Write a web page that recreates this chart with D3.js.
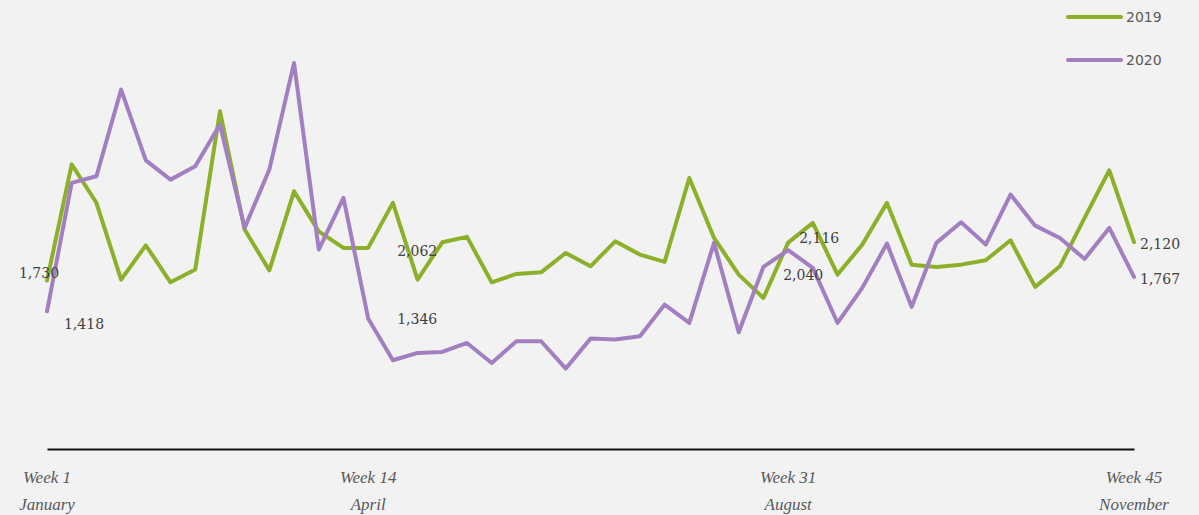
<!DOCTYPE html>
<html>
<head>
<meta charset="utf-8">
<script src="https://cdn.jsdelivr.net/npm/d3@7"></script>
<style>
  html, body { margin: 0; padding: 0; background: #f2f2f2; }
  svg { display: block; }
</style>
</head>
<body>
<svg id="chart" width="1199" height="515"></svg>
<script>
// Weekly counts, weeks 1–45
const weeks = d3.range(1, 46);
const values2019 = [
  1730, 2910, 2520, 1740, 2088, 1713, 1842, 3449, 2248, 1834,
  2636, 2230, 2062, 2062, 2519, 1740, 2119, 2174, 1713, 1798,
  1814, 2011, 1875, 2129, 1994, 1920, 2772, 2163, 1791, 1554,
  2116, 2316, 1791, 2095, 2519, 1892, 1869, 1892, 1936, 2139,
  1666, 1875, 2366, 2850, 2120
];
const values2020 = [
  1418, 2722, 2789, 3669, 2951, 2755, 2890, 3314, 2265, 2857,
  3940, 2045, 2569, 1346, 921, 996, 1006, 1097, 894, 1114,
  1114, 837, 1141, 1131, 1164, 1486, 1300, 2113, 1205, 1869,
  2040, 1859, 1300, 1656, 2106, 1463, 2113, 2322, 2095, 2603,
  2288, 2163, 1950, 2265, 1767
];
const seriesNames = ["2019", "2020"];
const seriesColors = ["#8db02b", "#a17fc0"];
const tickWeeks = [1, 14, 31, 45];
const tickLabels = ["Week 1", "Week 14", "Week 31", "Week 45"];
const tickMonths = ["January", "April", "August", "November"];
// weeks whose values are printed next to the lines
const labelWeeks = [1, 14, 31, 45];

const svg = d3.select("#chart");
const W = 1199, H = 515;

svg.append("rect").attr("width", W).attr("height", H).attr("fill", "#f2f2f2");

const x = d3.scaleLinear().domain([1, 45]).range([47, 1134]);
const y = d3.scaleLinear().domain([0, 4000]).range([451, 57]);

const line = d3.line()
  .x((d, i) => x(weeks[i]))
  .y(d => y(d))
  .curve(d3.curveLinear);

const allSeries = [values2019, values2020];

allSeries.forEach((vals, k) => {
  svg.append("path")
    .datum(vals)
    .attr("fill", "none")
    .attr("stroke", seriesColors[k])
    .attr("stroke-width", 4)
    .attr("stroke-linejoin", "round")
    .attr("stroke-linecap", "round")
    .attr("d", line);
});

// baseline axis
const axisG = svg.append("g").attr("transform", "translate(0,449)");
axisG.call(d3.axisBottom(x).tickValues([]).tickSize(0).tickSizeOuter(0));
axisG.select(".domain").attr("stroke", "#111").attr("stroke-width", 2);

// category labels under the axis
const tickFont = "'Liberation Serif', 'DejaVu Serif', serif";
tickWeeks.forEach((w, i) => {
  const t = svg.append("text")
    .attr("x", x(w))
    .attr("text-anchor", "middle")
    .attr("font-family", tickFont)
    .attr("font-style", "italic")
    .attr("font-size", 17)
    .attr("fill", "#595959");
  t.append("tspan").attr("x", x(w)).attr("y", 483).text(tickLabels[i]);
  t.append("tspan").attr("x", x(w)).attr("y", 510).text(tickMonths[i]);
});

// value labels: offsets relative to the point they describe
const labelOffsets = {
  "2019": { 1: [-8, -8, "middle"], 14: [29, 3, "start"], 31: [11, -5, "start"], 45: [6, 2, "start"] },
  "2020": { 1: [37, 13, "middle"], 14: [29, 1, "start"], 31: [-5, 25, "start"], 45: [6, 2, "start"] }
};
const fmt = d3.format(",");
allSeries.forEach((vals, k) => {
  const name = seriesNames[k];
  labelWeeks.forEach(w => {
    const v = vals[w - 1];
    const [dx, dy, anchor] = labelOffsets[name][w];
    svg.append("text")
      .attr("x", x(w) + dx)
      .attr("y", y(v) + dy)
      .attr("dominant-baseline", "central")
      .attr("text-anchor", anchor)
      .attr("font-family", "'DejaVu Serif', serif")
      .attr("font-size", 14)
      .attr("fill", "#404040")
      .text(fmt(v));
  });
});

// legend
const legend = svg.append("g");
seriesNames.forEach((name, k) => {
  const ly = 17 + k * 43;
  legend.append("line")
    .attr("x1", 1068).attr("x2", 1121)
    .attr("y1", ly).attr("y2", ly)
    .attr("stroke", seriesColors[k])
    .attr("stroke-width", 4)
    .attr("stroke-linecap", "round");
  legend.append("text")
    .attr("x", 1126).attr("y", ly)
    .attr("dominant-baseline", "central")
    .attr("font-family", "'DejaVu Sans', sans-serif")
    .attr("font-size", 14)
    .attr("fill", "#595959")
    .text(name);
});
</script>
</body>
</html>
